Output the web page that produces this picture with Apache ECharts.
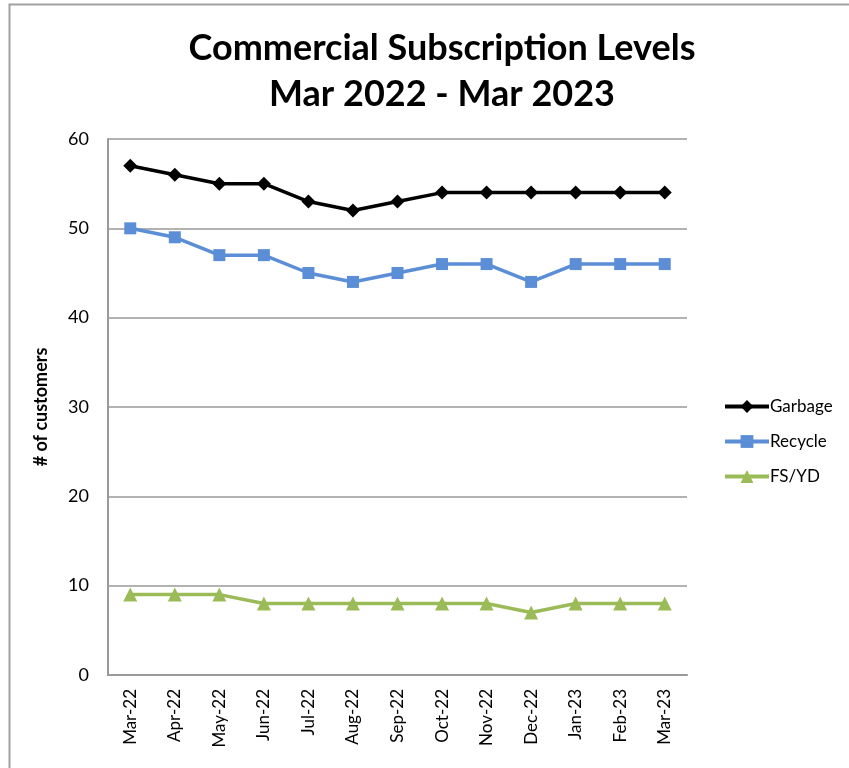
<!DOCTYPE html>
<html>
<head>
<meta charset="utf-8">
<script src="https://cdn.jsdelivr.net/npm/echarts@6/dist/echarts.min.js"></script>
<style>
  html, body { margin: 0; padding: 0; background: #fff; overflow: hidden; }
  #chart { width: 849px; height: 768px; }
</style>
</head>
<body>
<div id="chart"></div>
<script>
// 月份
const months = ['Mar-22', 'Apr-22', 'May-22', 'Jun-22', 'Jul-22', 'Aug-22', 'Sep-22',
  'Oct-22', 'Nov-22', 'Dec-22', 'Jan-23', 'Feb-23', 'Mar-23']
// 各系列数据
const garbage = [57, 56, 55, 55, 53, 52, 53, 54, 54, 54, 54, 54, 54]
const recycle = [50, 49, 47, 47, 45, 44, 45, 46, 46, 44, 46, 46, 46]
const fsyd = [9, 9, 9, 8, 8, 8, 8, 8, 8, 7, 8, 8, 8]

const font = 'Lato, "Open Sans", sans-serif'
const chart = echarts.init(document.getElementById('chart'))

const makeSeries = (name, data, color, symbol, size) => ({
  name,
  type: 'line',
  data,
  symbol,
  symbolSize: size,
  showSymbol: true,
  lineStyle: { width: 3.5, color },
  itemStyle: { color },
  emphasis: { disabled: true }
})

const option = {
  animation: false,
  graphic: [
    {
      type: 'rect',
      shape: { x: 9.5, y: 4.5, width: 900, height: 900 },
      style: { fill: 'none', stroke: '#a0a0a0', lineWidth: 2 },
      silent: true
    }
  ],
  title: {
    text: 'Commercial Subscription Levels\nMar 2022 - Mar 2023',
    left: 437,
    top: 20,
    textAlign: 'center',
    textStyle: {
      fontFamily: font,
      fontSize: 36,
      fontWeight: 'bold',
      color: '#000',
      lineHeight: 46
    }
  },
  legend: {
    orient: 'vertical',
    left: 718,
    top: 393,
    itemGap: 18,
    itemWidth: 44,
    itemHeight: 16,
    lineStyle: { width: 4 },
    textStyle: { fontFamily: font, fontSize: 17, color: '#000', padding: [0, 0, 0, -4] },
    data: ['Garbage', 'Recycle', 'FS/YD']
  },
  grid: {
    left: 108,
    right: 162,
    top: 139,
    bottom: 93,
    containLabel: false
  },
  xAxis: {
    type: 'category',
    data: months,
    boundaryGap: true,
    axisLine: { lineStyle: { color: '#999', width: 2 } },
    axisTick: { show: false },
    axisLabel: {
      rotate: 90,
      fontFamily: font,
      fontSize: 17,
      color: '#000',
      margin: 14,
      interval: 0
    }
  },
  yAxis: {
    type: 'value',
    min: 0,
    max: 60,
    interval: 10,
    name: '# of customers',
    nameLocation: 'middle',
    nameGap: 58,
    nameTextStyle: { fontFamily: font, fontSize: 18, fontWeight: 'bold', color: '#000' },
    axisLine: { show: true, lineStyle: { color: '#999', width: 2 } },
    axisTick: { show: false },
    splitLine: { lineStyle: { color: '#999', width: 1.5 } },
    axisLabel: { fontFamily: font, fontSize: 18, color: '#000', margin: 19 }
  },
  series: [
    makeSeries('Garbage', garbage, '#000000', 'diamond', 14),
    makeSeries('Recycle', recycle, '#5b8ed6', 'rect', 12),
    makeSeries('FS/YD', fsyd, '#9bbb59', 'triangle', 14)
  ]
}
chart.setOption(option)
</script>
</body>
</html>
